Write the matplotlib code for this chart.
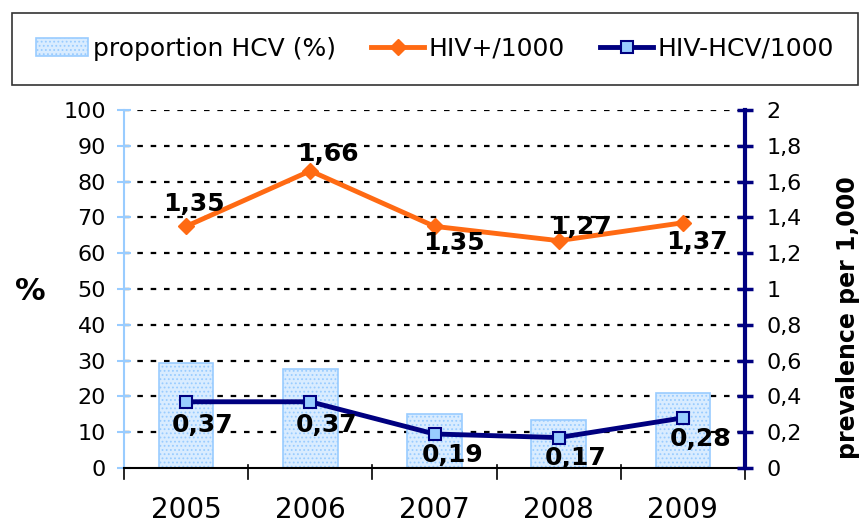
import numpy as np
import matplotlib.pyplot as plt

years = ["2005", "2006", "2007", "2008", "2009"]
hcv_pct = [29.2, 27.6, 15.1, 13.4, 21.0]
hiv_per1000 = [1.35, 1.66, 1.35, 1.27, 1.37]
hivhcv_per1000 = [0.37, 0.37, 0.19, 0.17, 0.28]
right_ticklabels = ["0", "0,2", "0,4", "0,6", "0,8", "1", "1,2", "1,4",
                    "1,6", "1,8", "2"]

navy = "#000080"
orange = "#FF6A13"
lightblue = "#99CCFF"

plt.rcParams['font.family'] = ['DejaVu Sans']
plt.rcParams['hatch.color'] = "#A8D0F5"
plt.rcParams['hatch.linewidth'] = 0.8

fig = plt.figure(figsize=(8.64, 5.24), dpi=100)
ax = fig.add_axes([124/864, 1 - 468/524, 621/864, 358/524])
x = np.arange(len(years))

# bars on the % axis
bars = ax.bar(x, hcv_pct, width=0.44, color="#D9ECFF", edgecolor=lightblue,
              hatch="....", linewidth=1.2, label="proportion HCV (%)", zorder=2)
ax.set_ylim(0, 100)
ax.set_xlim(-0.5, 4.5)
ax.set_yticks(np.arange(0, 101, 10))
ax.set_xticks(x)
ax.set_xticklabels(years, fontsize=20)
ax.tick_params(axis="x", length=0, pad=20)
# category boundary ticks
for xb in np.arange(-0.5, 4.6, 1):
    ax.plot([xb, xb], [0.008, -0.03], transform=ax.get_xaxis_transform(),
            color="black", lw=1.2, clip_on=False)
ax.tick_params(axis="y", direction="inout", length=10, color=lightblue,
               labelsize=16, width=1.5, pad=8)
for v in range(10, 101, 10):
    ax.axhline(v, color="black", lw=1.6, ls=(0, (2.5, 3.5)), zorder=1)
ax.spines["left"].set_color(lightblue)
ax.spines["left"].set_linewidth(1.5)
ax.spines["bottom"].set_color("black")
ax.spines["bottom"].set_linewidth(1.5)
ax.spines["top"].set_visible(False)
ax.spines["right"].set_visible(False)
fig.text(30/864, 1 - 292/524, "%", fontsize=22, fontweight="bold",
         ha="center", va="center")

# lines on the per 1,000 axis
ax2 = ax.twinx()
l1, = ax2.plot(x, hiv_per1000, color=orange, lw=3.5, marker="D", ms=8,
               label="HIV+/1000", zorder=4)
l2, = ax2.plot(x, hivhcv_per1000, color=navy, lw=3.5, marker="s", ms=8,
               mfc=lightblue, mec=navy, mew=1.5, label="HIV-HCV/1000",
               zorder=4)
ax2.set_ylim(0, 2)
ax2.set_yticks(np.arange(0, 2.01, 0.2))
ax2.set_yticklabels(right_ticklabels)
ax2.tick_params(axis="y", direction="inout", length=11, color=navy, width=2.5,
                labelsize=16, pad=10)
for s in ["top", "left", "bottom"]:
    ax2.spines[s].set_visible(False)
ax2.spines["right"].set_color(navy)
ax2.spines["right"].set_linewidth(3)
fig.text(848/864, 1 - 318/524, "prevalence per 1,000", fontsize=17,
         fontweight="bold", rotation=90, ha="center", va="center")

# value labels
hiv_offsets = [(6, 16), (13, 12), (14, -12), (16, 10), (10, -14)]
for xi, v, off in zip(x, hiv_per1000, hiv_offsets):
    ax2.annotate(f"{v:.2f}".replace(".", ","), (xi, v), xytext=off,
                 textcoords="offset points", ha="center", va="center",
                 fontsize=18, fontweight="bold", zorder=5)
hh_offsets = [(12, -17), (12, -17), (13, -15), (12, -15), (13, -15)]
for xi, v, off in zip(x, hivhcv_per1000, hh_offsets):
    ax2.annotate(f"{v:.2f}".replace(".", ","), (xi, v), xytext=off,
                 textcoords="offset points", ha="center", va="center",
                 fontsize=18, fontweight="bold", zorder=5)

leg = fig.legend(handles=[bars, l1, l2], loc="upper left",
                 bbox_to_anchor=(12/864, 1 - 13/524, 846/864, 0),
                 mode="expand", ncol=3, fontsize=18, frameon=True,
                 fancybox=False, edgecolor="black", handlelength=2.1,
                 handletextpad=0.2, borderpad=0.95, borderaxespad=0)
leg.get_frame().set_linewidth(1.2)

fig.savefig("out.png", dpi=100)
